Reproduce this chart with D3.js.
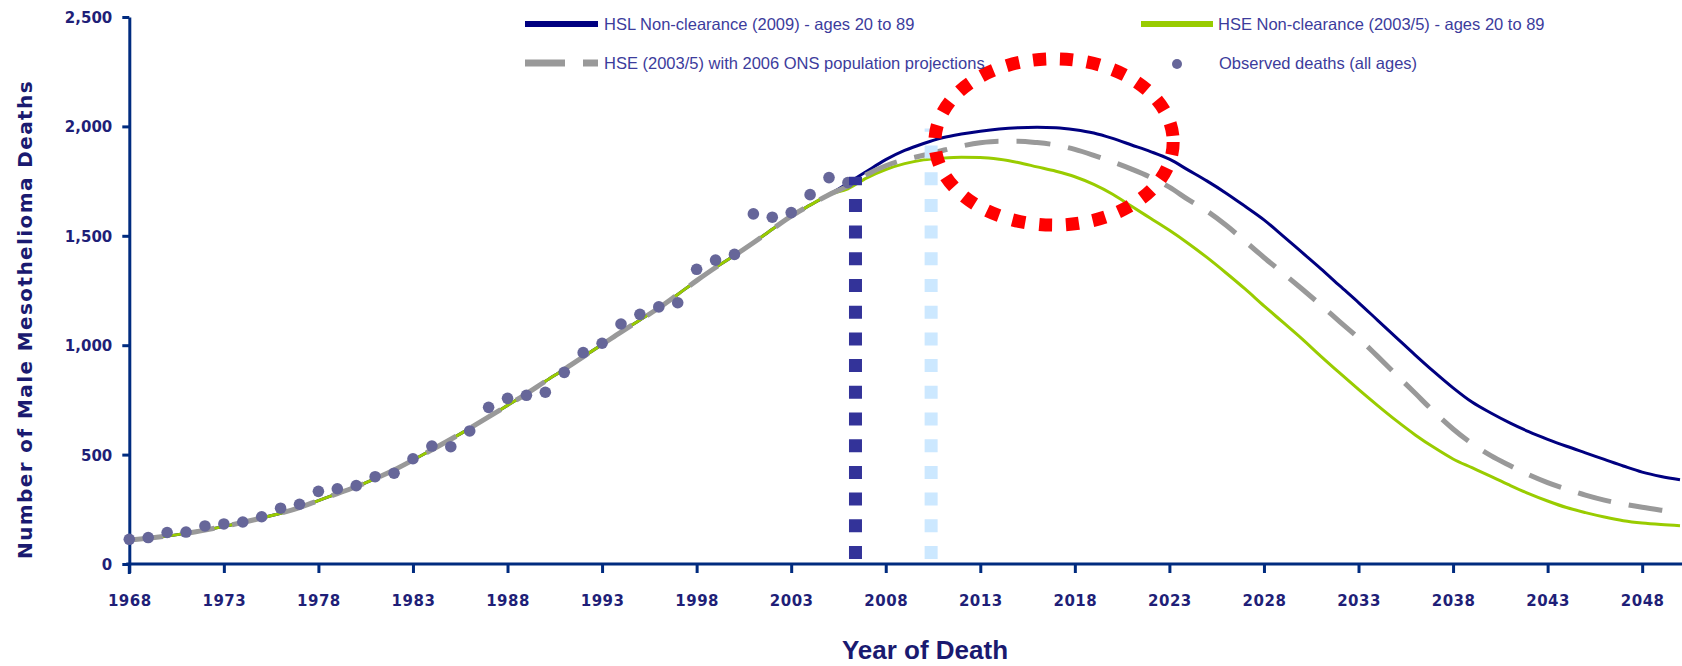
<!DOCTYPE html>
<html lang="en">
<head>
    <meta charset="UTF-8">
    <title>Male Mesothelioma Deaths</title>
    <script src="https://d3js.org/d3.v7.min.js"></script>
    <style>
        body { margin: 0; background: #fff; }
        svg { display: block; }
        .tick text {
            font-family: "DejaVu Sans", sans-serif;
            font-weight: bold;
            font-size: 15px;
            fill: #1f1f78;
        }
        .legend text {
            font-family: "Liberation Sans", sans-serif;
            font-size: 16.5px;
            fill: #3c3c9c;
        }
    </style>
</head>
<body>
    <svg id="chart" width="1682" height="666"></svg>

    <script>
        // Years on the axis and series values
        const xTicks = [1968, 1973, 1978, 1983, 1988, 1993, 1998, 2003, 2008, 2013, 2018, 2023, 2028, 2033, 2038, 2043, 2048];
        const yTicks = [0, 500, 1000, 1500, 2000, 2500];

        const lineYears = d3.range(1968, 2051);
        const obsYears = d3.range(1968, 2007);

        // all three model curves share this part (1968-2005)
        const sharedEarly = [110, 118, 128, 140, 155, 172, 190, 210, 232, 258,
            290, 322, 353, 390, 430, 475, 522, 570, 620, 672,
            725, 778, 835, 890, 947, 1003, 1060, 1115, 1170, 1232,
            1295, 1355, 1410, 1468, 1530, 1590, 1640, 1688];

        // 2006-2050
        const hslLate = [1740, 1795, 1848, 1890, 1922, 1948, 1965, 1978, 1988, 1994,
            1996, 1994, 1985, 1970, 1945, 1915, 1885, 1850, 1800, 1750,
            1695, 1635, 1573, 1500, 1425, 1350, 1272, 1195, 1115, 1035,
            955, 878, 805, 740, 690, 645, 605, 570, 538, 508,
            478, 448, 420, 400, 385];
        const hseLate = [1715, 1765, 1803, 1830, 1847, 1855, 1859, 1858, 1850, 1835,
            1815, 1795, 1770, 1735, 1690, 1635, 1580, 1525, 1465, 1400,
            1330, 1257, 1180, 1105, 1030, 950, 873, 798, 725, 655,
            590, 532, 480, 440, 400, 360, 322, 288, 258, 235,
            215, 198, 187, 180, 175];
        const onsLate = [1728, 1780, 1820, 1848, 1868, 1890, 1910, 1925, 1932, 1932,
            1926, 1915, 1895, 1868, 1838, 1805, 1768, 1722, 1665, 1612,
            1548, 1475, 1401, 1330, 1258, 1184, 1108, 1033, 950, 865,
            780, 695, 617, 550, 495, 450, 408, 372, 342, 315,
            292, 274, 259, 246, 234];

        const hsl = sharedEarly.concat(hslLate);
        const hse = sharedEarly.concat(hseLate);
        const ons = sharedEarly.concat(onsLate);

        const observed = [113, 121, 144, 146, 174, 183, 192, 216, 255, 273,
            332, 344, 358, 399, 415, 481, 539, 536, 608, 716,
            757, 771, 785, 876, 966, 1009, 1097, 1141, 1175, 1194,
            1347, 1389, 1415, 1600, 1585, 1606, 1688, 1766, 1743];

        // vertical dotted markers: [year, top value, colour]
        const markers = [[2006.4, 1770, "#333399"], [2010.4, 1990, "#cce8ff"]];

        // red dotted ring around the peaks: centre year/value, radii in years/deaths
        const ring = { year: 2016.9, value: 1929, yearR: 6.3, valueR: 380 };

        const width = 1682;
        const height = 666;

        const svg = d3.select("#chart");

        const x = d3.scaleLinear().domain([1968, 2050]).range([129.3, 1680]);
        const y = d3.scaleLinear().domain([0, 2500]).range([564, 17]);

        const axisColor = "#002b7f";

        // Axes
        const yAxis = svg.append("g")
            .attr("transform", `translate(${x(1968)},0)`)
            .call(d3.axisLeft(y).tickValues(yTicks).tickSize(7).tickSizeOuter(0)
                .tickPadding(10).tickFormat(d3.format(",")));

        const xAxis = svg.append("g")
            .attr("transform", `translate(0,${y(0)})`)
            .call(d3.axisBottom(x).tickValues(xTicks).tickSize(9).tickSizeOuter(0)
                .tickPadding(22).tickFormat(d3.format("d")));

        xAxis.select(".domain").attr("d", `M${x(1968) - 3},0H${width}`);
        xAxis.selectAll(".tick text").style("letter-spacing", "0.5px");

        [xAxis, yAxis].forEach(a => {
            a.select(".domain").attr("stroke", axisColor).attr("stroke-width", 3);
            a.selectAll(".tick line").attr("stroke", axisColor).attr("stroke-width", 3);
        });
        yAxis.selectAll(".tick text").attr("dy", "0.36em");

        // y axis runs a little below the x axis
        svg.append("line")
            .attr("x1", x(1968)).attr("x2", x(1968))
            .attr("y1", y(0)).attr("y2", y(0) + 10)
            .attr("stroke", axisColor).attr("stroke-width", 3);

        // Lines
        const line = d3.line()
            .x((d, i) => x(lineYears[i]))
            .y(d => y(d))
            .curve(d3.curveMonotoneX);

        svg.append("path").datum(hsl)
            .attr("fill", "none").attr("stroke", "#000080").attr("stroke-width", 3)
            .attr("d", line);

        svg.append("path").datum(hse)
            .attr("fill", "none").attr("stroke", "#99cc00").attr("stroke-width", 3)
            .attr("d", line);

        svg.append("path").datum(ons)
            .attr("fill", "none").attr("stroke", "#999999").attr("stroke-width", 5)
            .attr("stroke-dasharray", "34,18")
            .attr("d", line);

        // Observed deaths
        svg.append("g").selectAll("circle")
            .data(observed)
            .join("circle")
            .attr("cx", (d, i) => x(obsYears[i]))
            .attr("cy", d => y(d))
            .attr("r", 5.8)
            .attr("fill", "#666699");

        // Vertical dotted markers
        svg.append("g").selectAll("line")
            .data(markers)
            .join("line")
            .attr("x1", d => x(d[0])).attr("x2", d => x(d[0]))
            .attr("y1", y(0) - 5).attr("y2", d => y(d[1]))
            .attr("stroke", d => d[2])
            .attr("stroke-width", 13)
            .attr("stroke-dasharray", "13,13.7");

        // Red ring
        svg.append("ellipse")
            .attr("cx", x(ring.year))
            .attr("cy", y(ring.value))
            .attr("rx", x(ring.year + ring.yearR) - x(ring.year))
            .attr("ry", y(ring.value - ring.valueR) - y(ring.value))
            .attr("fill", "none")
            .attr("stroke", "#ff0000")
            .attr("stroke-width", 13)
            .attr("stroke-dasharray", "13,14");

        // Legend
        const legend = svg.append("g").attr("class", "legend");

        legend.append("line").attr("x1", 525).attr("x2", 598).attr("y1", 24).attr("y2", 24)
            .attr("stroke", "#000080").attr("stroke-width", 6);
        legend.append("text").attr("x", 604).attr("y", 30)
            .text("HSL Non-clearance (2009) - ages 20 to 89");

        legend.append("line").attr("x1", 1141).attr("x2", 1213).attr("y1", 24).attr("y2", 24)
            .attr("stroke", "#99cc00").attr("stroke-width", 6);
        legend.append("text").attr("x", 1218).attr("y", 30)
            .text("HSE Non-clearance (2003/5) - ages 20 to 89");

        legend.append("line").attr("x1", 525).attr("x2", 598).attr("y1", 63).attr("y2", 63)
            .attr("stroke", "#999999").attr("stroke-width", 7)
            .attr("stroke-dasharray", "40,18");
        legend.append("text").attr("x", 604).attr("y", 69)
            .text("HSE (2003/5) with 2006 ONS population projections");

        legend.append("circle").attr("cx", 1177).attr("cy", 64).attr("r", 5)
            .attr("fill", "#666699");
        legend.append("text").attr("x", 1219).attr("y", 69)
            .text("Observed deaths (all ages)");

        // Axis titles
        svg.append("text")
            .attr("transform", `translate(32,${(y(0) + y(2500)) / 2 + 29}) rotate(-90)`)
            .attr("text-anchor", "middle")
            .style("font-family", "DejaVu Sans, sans-serif")
            .style("font-weight", "bold")
            .style("font-size", "20px")
            .style("letter-spacing", "1.4px")
            .attr("fill", "#1a1a70")
            .text("Number of Male Mesothelioma Deaths");

        svg.append("text")
            .attr("x", 925).attr("y", 659)
            .attr("text-anchor", "middle")
            .style("font-family", "Liberation Sans, sans-serif")
            .style("font-weight", "bold")
            .style("font-size", "26px")
            .attr("fill", "#1a1a70")
            .text("Year of Death");
    </script>
</body>
</html>
